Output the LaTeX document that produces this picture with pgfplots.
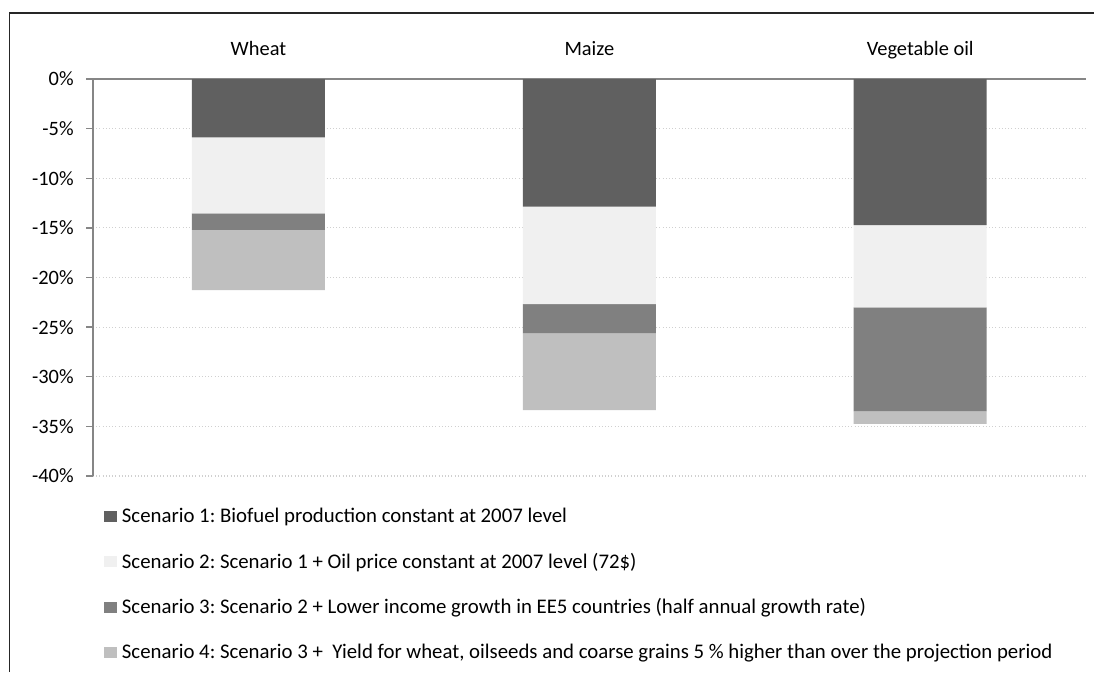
\documentclass[border=0pt]{standalone}
\usepackage{pgfplots}
\pgfplotsset{compat=1.18}
\usepackage{fontspec}
\setmainfont{Carlito}
\frenchspacing
\definecolor{sone}{HTML}{606060}
\definecolor{stwo}{HTML}{F0F0F0}
\definecolor{sthree}{HTML}{808080}
\definecolor{sfour}{HTML}{BFBFBF}
\definecolor{axgray}{HTML}{868686}
\definecolor{gridgray}{HTML}{D0D0D0}
\begin{document}
\begin{tikzpicture}[x=0.75pt,y=0.75pt]
\useasboundingbox (0,0) rectangle (1094,672);
\draw[line width=1.1pt,black!85] (9.5,0) -- (9.5,659) -- (1094,659);
\begin{axis}[
  at={(69.75pt,147pt)}, anchor=south west,
  scale only axis, width=744.5pt, height=297.75pt,
  xmin=0, xmax=3, ymin=-40, ymax=0,
  axis x line=top, axis y line=left,
  axis line style={axgray, line width=1.2pt, -},
  ybar stacked, bar width=99.75pt,
  xtick={0.5,1.5,2.5},
  xticklabels={Wheat, Maize, Vegetable oil},
  x tick style={draw=none},
  xticklabel style={anchor=base, yshift=13pt},
  extra x ticks={1,2,3},
  extra x tick labels={},
  extra x tick style={tick align=inside, major tick length=4.5pt, tick style={axgray, line width=1pt}},
  ytick={-40,-35,...,0},
  yticklabels={-40\%,-35\%,-30\%,-25\%,-20\%,-15\%,-10\%,-5\%,0\%},
  tick align=outside, major tick length=5pt,
  y tick style={axgray, line width=1pt},
  yticklabel style={xshift=-6pt},
  ymajorgrids, grid style={gridgray, dotted, line width=0.8pt},
  tick label style={font=\fontsize{15.3}{18}\selectfont, text=black},
  legend style={at={(0,0)}, anchor=north west, xshift=8.25pt, yshift=-23pt,
    draw=none, fill=none, font=\fontsize{15.6}{18}\selectfont,
    row sep=19.2pt, column sep=2.5pt, inner sep=0pt,
    nodes={inner sep=1pt}},
  legend cell align=left,
  legend image code/.code={\fill[#1] (0pt,-4.1pt) rectangle (9.75pt,4.1pt);},
]
\addplot[fill=sone, draw=none] coordinates {(0.5,-5.88) (1.5,-12.86) (2.5,-14.71)};
\addplot[fill=stwo, draw=none] coordinates {(0.5,-7.65) (1.5,-9.81) (2.5,-8.29)};
\addplot[fill=sthree, draw=none] coordinates {(0.5,-1.68) (1.5,-2.95) (2.5,-10.50)};
\addplot[fill=sfour, draw=none] coordinates {(0.5,-6.05) (1.5,-7.73) (2.5,-1.26)};
\legend{Scenario 1: Biofuel production constant at 2007 level,
Scenario 2: Scenario 1 + Oil price constant at 2007 level (72\$),
Scenario 3: Scenario 2 + Lower income growth in EE5 countries (half annual growth rate),
Scenario 4: Scenario 3 +\ \ Yield for wheat{,} oilseeds and coarse grains 5 \% higher than over the projection period}
\end{axis}
\end{tikzpicture}
\end{document}
